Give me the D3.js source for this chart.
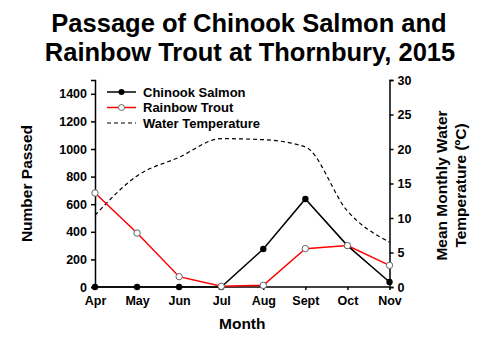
<!DOCTYPE html>
<html>
<head>
<meta charset="utf-8">
<script src="https://cdn.jsdelivr.net/npm/d3@7"></script>
<style>
  body { margin: 0; background: #fff; }
  svg text { font-family: "Liberation Sans", Arial, sans-serif; font-weight: bold; fill: #000; }
</style>
</head>
<body>
<svg id="chart" width="500" height="345"></svg>
<script>
// Monthly fish passage counts and mean water temperature
const months = ["Apr", "May", "Jun", "Jul", "Aug", "Sept", "Oct", "Nov"];
const chinook = [0, 0, 0, 0, 275, 638, 300, 36];
const rainbow = [681, 391, 75, 5, 12, 278, 300, 157];
const waterTemp = [10.4, 16.1, 18.8, 21.5, 21.35, 20.3, 11.0, 6.5];
const countTicks = [0, 200, 400, 600, 800, 1000, 1200, 1400];
const tempTicks = [0, 5, 10, 15, 20, 25, 30];

const svg = d3.select("#chart");
const plotLeft = 95, plotRight = 389.5, plotTop = 80, plotBottom = 287;

const x = d3.scalePoint().domain(months).range([plotLeft, plotRight]);
const yCount = d3.scaleLinear().domain([0, 1500]).range([plotBottom, plotTop]);
const yTemp = d3.scaleLinear().domain([0, 30]).range([plotBottom, plotTop]);

// Title
svg.append("text").attr("x", 249).attr("y", 32).attr("text-anchor", "middle")
  .style("font-size", "25.5px").text("Passage of Chinook Salmon and");
svg.append("text").attr("x", 250).attr("y", 61).attr("text-anchor", "middle")
  .style("font-size", "25.5px").text("Rainbow Trout at Thornbury, 2015");

// Axes
const leftAxis = svg.append("g").attr("transform", `translate(${plotLeft},0)`)
  .call(d3.axisLeft(yCount).tickValues(countTicks).tickFormat(d3.format("d")).tickSize(4).tickPadding(4));
const rightAxis = svg.append("g").attr("transform", `translate(${plotRight},0)`)
  .call(d3.axisRight(yTemp).tickValues(tempTicks).tickFormat(d3.format("d")).tickSize(4).tickPadding(4));
const bottomAxis = svg.append("g").attr("transform", `translate(0,${plotBottom})`)
  .call(d3.axisBottom(x).tickSize(3).tickPadding(6));
bottomAxis.select(".domain").attr("d", `M${plotLeft},0H${plotRight}`);

[leftAxis, rightAxis, bottomAxis].forEach(a => {
  a.selectAll("path, line").attr("stroke", "#000").attr("stroke-width", 1.5);
  a.selectAll("text").style("font-size", "12.5px").style("font-family", "Liberation Sans, Arial, sans-serif").style("font-weight", "bold");
});

// Axis titles
svg.append("text").attr("transform", `translate(32,${(plotTop + plotBottom) / 2}) rotate(-90)`)
  .attr("text-anchor", "middle").style("font-size", "15.5px").text("Number Passed");
svg.append("text").attr("transform", `translate(447,${(plotTop + plotBottom) / 2 + 2}) rotate(-90)`)
  .attr("text-anchor", "middle").style("font-size", "15.5px").text("Mean Monthly Water");
svg.append("text").attr("transform", `translate(466,${(plotTop + plotBottom) / 2 + 2}) rotate(-90)`)
  .attr("text-anchor", "middle").style("font-size", "15.5px").text("Temperature (ºC)");
svg.append("text").attr("x", (plotLeft + plotRight) / 2).attr("y", 329)
  .attr("text-anchor", "middle").style("font-size", "15.5px").text("Month");

// Water temperature (smoothed dashed line)
const tempLine = d3.line().x((d, i) => x(months[i])).y(d => yTemp(d)).curve(d3.curveMonotoneX);
svg.append("path").datum(waterTemp).attr("d", tempLine)
  .attr("fill", "none").attr("stroke", "#000").attr("stroke-width", 1.2).attr("stroke-dasharray", "4,3");

// Count series
const countLine = d3.line().x((d, i) => x(months[i])).y(d => yCount(d));
svg.append("path").datum(rainbow).attr("d", countLine)
  .attr("fill", "none").attr("stroke", "#ff0000").attr("stroke-width", 1.5);
svg.append("path").datum(chinook).attr("d", countLine)
  .attr("fill", "none").attr("stroke", "#000").attr("stroke-width", 1.5);

svg.append("g").selectAll("circle").data(chinook).join("circle")
  .attr("cx", (d, i) => x(months[i])).attr("cy", d => yCount(d)).attr("r", 3.2)
  .attr("fill", "#000");
svg.append("g").selectAll("circle").data(rainbow).join("circle")
  .attr("cx", (d, i) => x(months[i])).attr("cy", d => yCount(d)).attr("r", 3.2)
  .attr("fill", "#fff").attr("stroke", "#666").attr("stroke-width", 1);

// Legend
const legend = svg.append("g");
const rows = [
  { label: "Chinook Salmon", stroke: "#000", dash: null, marker: "filled" },
  { label: "Rainbow Trout", stroke: "#ff0000", dash: null, marker: "open" },
  { label: "Water Temperature", stroke: "#000", dash: "4,3", marker: null }
];
rows.forEach((r, i) => {
  const yy = 92 + i * 15.5;
  legend.append("line").attr("x1", 107).attr("x2", 136).attr("y1", yy).attr("y2", yy)
    .attr("stroke", r.stroke).attr("stroke-width", r.dash ? 1.2 : 1.5)
    .attr("stroke-dasharray", r.dash);
  if (r.marker === "filled") legend.append("circle").attr("cx", 121.5).attr("cy", yy).attr("r", 3).attr("fill", "#000");
  if (r.marker === "open") legend.append("circle").attr("cx", 121.5).attr("cy", yy).attr("r", 3)
    .attr("fill", "#fff").attr("stroke", "#666");
  legend.append("text").attr("x", 143).attr("y", yy + 4.5).style("font-size", "13px").text(r.label);
});
</script>
</body>
</html>
